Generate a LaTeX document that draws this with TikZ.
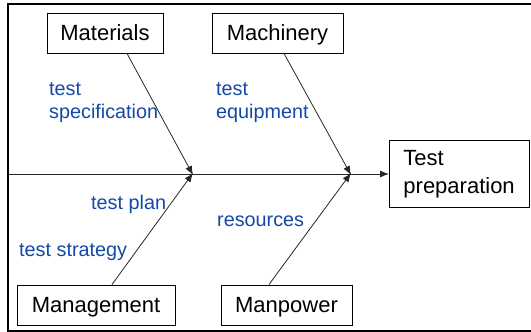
\documentclass[tikz,border=0pt]{standalone}
\usepackage{fontspec}
\setmainfont{Liberation Sans}
\usetikzlibrary{arrows.meta}
\definecolor{lblue}{RGB}{20,72,165}
\begin{document}
\begin{tikzpicture}[x=1pt,y=-1pt,
  box/.style={draw=black,line width=0.9pt,fill=white,inner sep=0pt,
    font=\fontsize{22}{28}\selectfont,text=black},
  onebox/.style={box,text height=15.8pt,text depth=0pt,minimum height=40pt},
  lbl/.style={text=lblue,inner sep=0pt,font=\fontsize{19.8}{23}\selectfont,align=left},
  conn/.style={draw=black!85,line width=0.8pt,-{Latex[length=9pt,width=7pt]}}]
\useasboundingbox (0,0) rectangle (531,332);
\draw[line width=2pt] (531,4) -- (8,4) -- (8,330.5) -- (531,330.5);
\node[onebox,minimum width=116pt] (mat) at (105,33) {Materials};
\node[onebox,minimum width=131pt] (mach) at (277.5,33) {Machinery};
\node[onebox,minimum width=158pt] (mgmt) at (96,305) {Management};
\node[onebox,minimum width=131pt] (man) at (286.5,305) {Manpower};
\node[box,anchor=north west,minimum height=67pt,text width=112pt,align=left,inner xsep=14pt] (tp) at (389,140) {Test\\preparation};
\coordinate (s0) at (9,174);
\coordinate (j1) at (193,174);
\coordinate (j2) at (351,174);
\draw[conn] (s0) -- (tp.west |- s0);
\draw[conn] ([xshift=22pt]mat.south) -- ([yshift=-1pt]j1);
\draw[conn] ([xshift=16pt]mgmt.north) -- ([yshift=1pt]j1);
\draw[conn] ([xshift=6.5pt]mach.south) -- ([yshift=-1pt]j2);
\draw[conn] ([xshift=-17.5pt]man.north) -- ([yshift=1pt]j2);
\node[lbl,anchor=north west] (l1) at (49,82.5) {test\\specification};
\node[lbl,anchor=north west] (l2) at (216,82.5) {test\\equipment};
\node[lbl,anchor=base west] (l3) at (91,209) {test plan};
\node[lbl,anchor=base west] (l4) at (19,256) {test strategy};
\node[lbl,anchor=base west] (l5) at (217,226) {resources};
\end{tikzpicture}
\end{document}
